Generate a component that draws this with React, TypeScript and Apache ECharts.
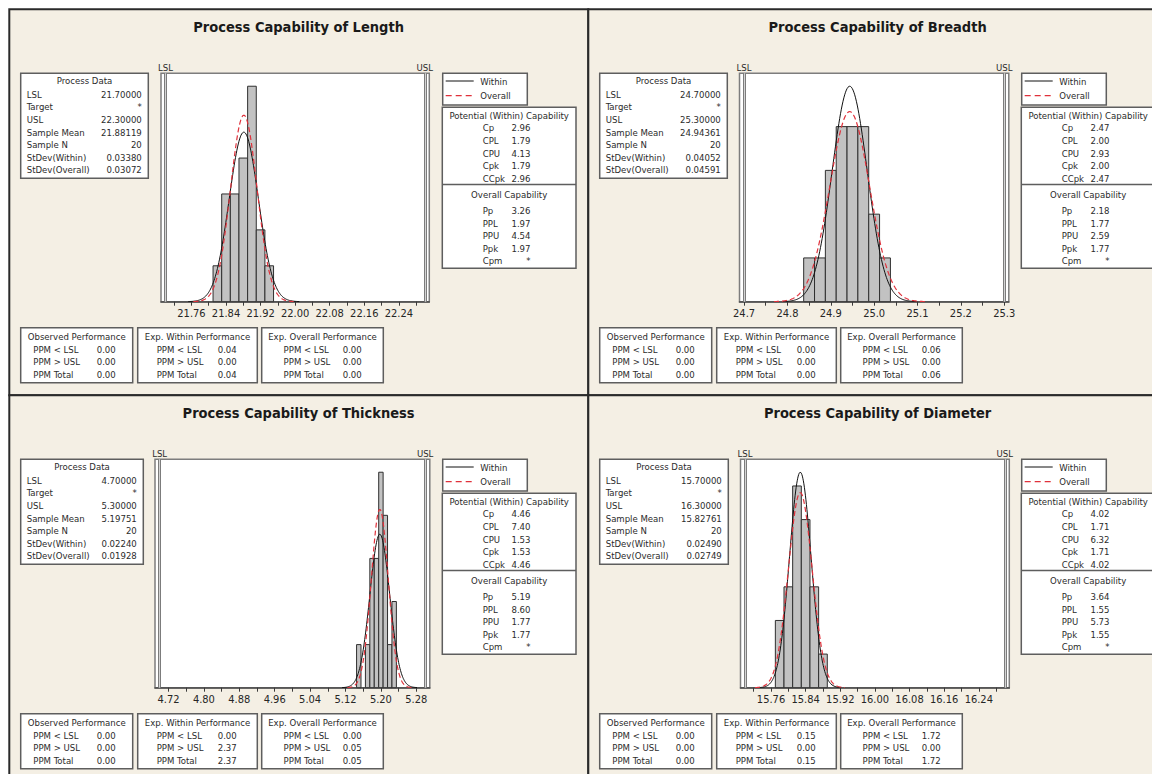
import React, { useEffect, useRef } from "react";
import * as echarts from "echarts";

const FONT = "'DejaVu Sans Condensed', 'DejaVu Sans', sans-serif";

// ---------------- data ----------------
const panelTitles = [
  "Process Capability of Length",
  "Process Capability of Breadth",
  "Process Capability of Thickness",
  "Process Capability of Diameter",
];
const lslValues = [21.7, 24.7, 4.7, 15.7];
const uslValues = [22.3, 25.3, 5.3, 16.3];
const sampleMeans = [21.88119, 24.94361, 5.19751, 15.82761];
const sampleN = [20, 20, 20, 20];
const stdevWithin = [0.0338, 0.04052, 0.0224, 0.0249];
const stdevOverall = [0.03072, 0.04591, 0.01928, 0.02749];

// histogram bins (bin centres, counts, bin width)
const lengthBinCenters = [21.82, 21.84, 21.86, 21.88, 21.9, 21.92, 21.94];
const lengthCounts = [1, 3, 3, 4, 6, 2, 1];
const breadthBinCenters = [24.85, 24.875, 24.9, 24.925, 24.95, 24.975, 25.0, 25.025];
const breadthCounts = [1, 1, 3, 4, 4, 4, 2, 1];
const thicknessBinCenters = [5.15, 5.16, 5.17, 5.18, 5.19, 5.2, 5.21, 5.22, 5.23];
const thicknessCounts = [1, 0, 1, 3, 3, 5, 4, 1, 2];
const diameterBinCenters = [15.78, 15.8, 15.82, 15.84, 15.86, 15.88];
const diameterCounts = [2, 3, 6, 5, 3, 1];
const binWidths = [0.02, 0.025, 0.01, 0.02];

// axis ticks and tick labels
const lengthTicks = [21.72, 21.76, 21.8, 21.84, 21.88, 21.92, 21.96, 22.0, 22.04, 22.08, 22.12, 22.16, 22.2, 22.24, 22.28];
const lengthTickLabels = [21.76, 21.84, 21.92, 22.0, 22.08, 22.16, 22.24];
const breadthTicks = [24.7, 24.75, 24.8, 24.85, 24.9, 24.95, 25.0, 25.05, 25.1, 25.15, 25.2, 25.25, 25.3];
const breadthTickLabels = [24.7, 24.8, 24.9, 25.0, 25.1, 25.2, 25.3];
const thicknessTicks = [4.72, 4.76, 4.8, 4.84, 4.88, 4.92, 4.96, 5.0, 5.04, 5.08, 5.12, 5.16, 5.2, 5.24, 5.28];
const thicknessTickLabels = [4.72, 4.8, 4.88, 4.96, 5.04, 5.12, 5.2, 5.28];
const diameterTicks = [15.72, 15.76, 15.8, 15.84, 15.88, 15.92, 15.96, 16.0, 16.04, 16.08, 16.12, 16.16, 16.2, 16.24, 16.28];
const diameterTickLabels = [15.76, 15.84, 15.92, 16.0, 16.08, 16.16, 16.24];
const labelDecimals = [2, 1, 2, 2];

// text tables
const processDataLabels = ["LSL", "Target", "USL", "Sample Mean", "Sample N", "StDev(Within)", "StDev(Overall)"];
const lengthProcessData = ["21.70000", "*", "22.30000", "21.88119", "20", "0.03380", "0.03072"];
const breadthProcessData = ["24.70000", "*", "25.30000", "24.94361", "20", "0.04052", "0.04591"];
const thicknessProcessData = ["4.70000", "*", "5.30000", "5.19751", "20", "0.02240", "0.01928"];
const diameterProcessData = ["15.70000", "*", "16.30000", "15.82761", "20", "0.02490", "0.02749"];

const potentialLabels = ["Cp", "CPL", "CPU", "Cpk", "CCpk"];
const lengthPotential = ["2.96", "1.79", "4.13", "1.79", "2.96"];
const breadthPotential = ["2.47", "2.00", "2.93", "2.00", "2.47"];
const thicknessPotential = ["4.46", "7.40", "1.53", "1.53", "4.46"];
const diameterPotential = ["4.02", "1.71", "6.32", "1.71", "4.02"];

const overallLabels = ["Pp", "PPL", "PPU", "Ppk", "Cpm"];
const lengthOverall = ["3.26", "1.97", "4.54", "1.97", "*"];
const breadthOverall = ["2.18", "1.77", "2.59", "1.77", "*"];
const thicknessOverall = ["5.19", "8.60", "1.77", "1.77", "*"];
const diameterOverall = ["3.64", "1.55", "5.73", "1.55", "*"];

const ppmLabels = ["PPM < LSL", "PPM > USL", "PPM Total"];
const observedPPM = [["0.00", "0.00", "0.00"], ["0.00", "0.00", "0.00"], ["0.00", "0.00", "0.00"], ["0.00", "0.00", "0.00"]];
const expWithinPPM = [["0.04", "0.00", "0.04"], ["0.00", "0.00", "0.00"], ["0.00", "2.37", "2.37"], ["0.15", "0.00", "0.15"]];
const expOverallPPM = [["0.00", "0.00", "0.00"], ["0.06", "0.00", "0.06"], ["0.00", "0.05", "0.05"], ["1.72", "0.00", "1.72"]];

const binCenters = [lengthBinCenters, breadthBinCenters, thicknessBinCenters, diameterBinCenters];
const binCounts = [lengthCounts, breadthCounts, thicknessCounts, diameterCounts];
const axisTicks = [lengthTicks, breadthTicks, thicknessTicks, diameterTicks];
const axisTickLabels = [lengthTickLabels, breadthTickLabels, thicknessTickLabels, diameterTickLabels];
const processData = [lengthProcessData, breadthProcessData, thicknessProcessData, diameterProcessData];
const potentialData = [lengthPotential, breadthPotential, thicknessPotential, diameterPotential];
const overallData = [lengthOverall, breadthOverall, thicknessOverall, diameterOverall];

// ---------------- layout ----------------
const PANEL_DX = 579;
const PANEL_DY = 386;
const BG = "#f4efe4";
const TEXT = "#2b2b2b";
const BOX_STROKE = "#5e5e5e";
const panelLayouts = [
  { procRight: 148.3, plotLeft: 161, plotRight: 429.3 },
  { procRight: 148.3, plotLeft: 160.5, plotRight: 429.8 },
  { procRight: 143.3, plotLeft: 155, plotRight: 429.8 },
  { procRight: 149.3, plotLeft: 161.5, plotRight: 430.3 },
];
const PLOT_TOP = 73.3;
const PLOT_BOTTOM = 301.7;

function pdfCurve(mean: number, sd: number, n: number, w: number) {
  const pts: number[][] = [];
  const steps = 160;
  for (let i = 0; i <= steps; i++) {
    const x = mean - 3.8 * sd + (7.6 * sd * i) / steps;
    const z = (x - mean) / sd;
    pts.push([x, (n * w * Math.exp(-0.5 * z * z)) / (sd * Math.sqrt(2 * Math.PI))]);
  }
  return pts;
}

function txt(x: number, y: number, text: string, o: any = {}) {
  return {
    type: "text",
    x,
    y,
    z: 30,
    silent: true,
    style: {
      text,
      fill: o.fill || TEXT,
      font: `${o.weight || "normal"} ${o.size || 9.5}px ${FONT}`,
      textAlign: o.align || "left",
      textVerticalAlign: "middle",
    },
  };
}
function box(x: number, y: number, w: number, h: number) {
  return {
    type: "rect",
    z: 20,
    silent: true,
    shape: { x, y, width: w, height: h },
    style: { fill: "#ffffff", stroke: BOX_STROKE, lineWidth: 1.5 },
  };
}
function hline(x1: number, y1: number, x2: number, y2: number, stroke: string, lineWidth: number, dash?: number[]) {
  return {
    type: "line",
    z: 25,
    silent: true,
    shape: { x1, y1, x2, y2 },
    style: { stroke, lineWidth, lineDash: dash || null },
  };
}

function buildOption() {
  const grids: any[] = [];
  const xAxes: any[] = [];
  const yAxes: any[] = [];
  const series: any[] = [];
  const elements: any[] = [];

  for (let p = 0; p < 4; p++) {
    const col = p % 2;
    const row = Math.floor(p / 2);
    const ox = col * PANEL_DX;
    const oy = row * PANEL_DY;
    const lay = panelLayouts[p];

    // panel background + frame
    elements.push({
      type: "rect",
      z: -10,
      silent: true,
      shape: { x: 9.3 + ox, y: 9.3 + oy, width: PANEL_DX, height: PANEL_DY },
      style: { fill: BG, stroke: "#2a2a2a", lineWidth: 2 },
    });

    // title
    elements.push(txt(ox + 298.6, oy + 27, panelTitles[p], { weight: "bold", size: 14.5, align: "center", fill: "#1a1a1a" }));

    // process data box
    const pbx = ox + 20.7;
    const pby = oy + 73.3;
    const pbw = lay.procRight - 20.7;
    elements.push(box(pbx, pby, pbw, 105));
    elements.push(txt(pbx + pbw / 2, oy + 80.7, "Process Data", { align: "center" }));
    processDataLabels.forEach((lab, i) => {
      const y = oy + 94.3 + i * 12.6;
      elements.push(txt(pbx + 6, y, lab));
      elements.push(txt(pbx + pbw - 6.5, y, processData[p][i], { align: "right" }));
    });

    // legend box
    const lbx = ox + 442.7;
    elements.push(box(lbx, oy + 73.3, 84.6, 31.7));
    elements.push(hline(lbx + 3, oy + 81, lbx + 31, oy + 81, "#111111", 1));
    elements.push(hline(lbx + 3, oy + 95.7, lbx + 31, oy + 95.7, "#e0313b", 1.2, [6, 4]));
    elements.push(txt(lbx + 37.5, oy + 81, "Within"));
    elements.push(txt(lbx + 37.5, oy + 95.7, "Overall"));

    // potential / overall capability box
    const cbx = ox + 442.3;
    const cbw = 133.7;
    elements.push(box(cbx, oy + 107.3, cbw, 161));
    elements.push(hline(cbx, oy + 184.5, cbx + cbw, oy + 184.5, BOX_STROKE, 1.5));
    elements.push(txt(cbx + cbw / 2, oy + 115, "Potential (Within) Capability", { align: "center" }));
    potentialLabels.forEach((lab, i) => {
      const y = oy + 127.7 + i * 12.65;
      elements.push(txt(ox + 482.7, y, lab));
      elements.push(txt(ox + 530.5, y, potentialData[p][i], { align: "right" }));
    });
    elements.push(txt(cbx + cbw / 2, oy + 194, "Overall Capability", { align: "center" }));
    overallLabels.forEach((lab, i) => {
      const y = oy + 210.7 + i * 12.5;
      elements.push(txt(ox + 482.7, y, lab));
      elements.push(txt(ox + 530.5, y, overallData[p][i], { align: "right" }));
    });

    // bottom performance boxes
    const perfBoxes = [
      { x: 20.7, w: 112, title: "Observed Performance", lx: 33.3, vx: 96.7, vals: observedPPM[p] },
      { x: 137.7, w: 119.6, title: "Exp. Within Performance", lx: 156.7, vx: 217.7, vals: expWithinPPM[p] },
      { x: 261.7, w: 121.6, title: "Exp. Overall Performance", lx: 283.6, vx: 342.7, vals: expOverallPPM[p] },
    ];
    perfBoxes.forEach((b) => {
      elements.push(box(ox + b.x, oy + 327.7, b.w, 55));
      elements.push(txt(ox + b.x + b.w / 2, oy + 336.7, b.title, { align: "center" }));
      ppmLabels.forEach((lab, i) => {
        const y = oy + 349.3 + i * 12.35;
        elements.push(txt(ox + b.lx, y, lab));
        elements.push(txt(ox + b.vx, y, b.vals[i]));
      });
    });

    // ---------- chart parts ----------
    const lsl = lslValues[p];
    const usl = uslValues[p];
    const margin = 0.0175 * (usl - lsl);
    const w = binWidths[p];
    const within = pdfCurve(sampleMeans[p], stdevWithin[p], sampleN[p], w);
    const overall = pdfCurve(sampleMeans[p], stdevOverall[p], sampleN[p], w);
    const peakW = (sampleN[p] * w) / (stdevWithin[p] * Math.sqrt(2 * Math.PI));
    const peakO = (sampleN[p] * w) / (stdevOverall[p] * Math.sqrt(2 * Math.PI));
    const ymax = 1.06 * Math.max(Math.max(...binCounts[p]), peakW, peakO);
    const dec = labelDecimals[p];

    grids.push({
      left: ox + lay.plotLeft,
      top: oy + PLOT_TOP,
      width: lay.plotRight - lay.plotLeft,
      height: PLOT_BOTTOM - PLOT_TOP,
      show: true,
      backgroundColor: "#ffffff",
      borderColor: "#7d7d7d",
      borderWidth: 1.5,
      containLabel: false,
    });
    xAxes.push({
      type: "value",
      gridIndex: p,
      min: lsl - margin,
      max: usl + margin,
      axisLine: { show: true, onZero: false, lineStyle: { color: "#4a4a4a", width: 1.5 } },
      axisTick: { show: true, customValues: axisTicks[p], length: 4, lineStyle: { color: "#3a3a3a", width: 1 } },
      axisLabel: {
        customValues: axisTickLabels[p],
        formatter: (v: number) => v.toFixed(dec),
        fontSize: 11,
        fontFamily: FONT,
        color: "#262626",
        margin: 6,
      },
      splitLine: { show: false },
    });
    yAxes.push({ type: "value", gridIndex: p, min: 0, max: ymax, show: false, splitLine: { show: false } });

    const specLines = [
      { name: "LSL", xAxis: lsl },
      { name: "USL", xAxis: usl },
    ];
    const histData = binCenters[p].map((c, i) => [c - w / 2, c + w / 2, binCounts[p][i]]);
    series.push({
      type: "custom",
      xAxisIndex: p,
      yAxisIndex: p,
      data: histData,
      encode: { x: [0, 1], y: 2 },
      renderItem: (_params: any, api: any) => {
        const c = api.value(2);
        if (!c) return null;
        const p0 = api.coord([api.value(0), c]);
        const p1 = api.coord([api.value(1), 0]);
        return {
          type: "rect",
          shape: { x: p0[0], y: p0[1], width: p1[0] - p0[0], height: p1[1] - p0[1] },
          style: { fill: "#c2c2c2", stroke: "#2f2f2f", lineWidth: 1 },
        };
      },
      markLine: {
        silent: true,
        symbol: "none",
        animation: false,
        lineStyle: { color: "#7c7c7c", width: 3, type: "solid" },
        label: {
          show: true,
          position: "end",
          formatter: "{b}",
          distance: 1,
          fontSize: 9.5,
          fontFamily: FONT,
          color: TEXT,
        },
        data: specLines,
      },
      z: 2,
    });
    series.push({
      type: "line",
      name: "Within",
      xAxisIndex: p,
      yAxisIndex: p,
      data: within,
      showSymbol: false,
      smooth: false,
      lineStyle: { color: "#111111", width: 1 },
      markLine: {
        silent: true,
        symbol: "none",
        animation: false,
        lineStyle: { color: "#d4d4d4", width: 1, type: "solid" },
        label: { show: false },
        data: specLines,
      },
      z: 3,
    });
    series.push({
      type: "line",
      name: "Overall",
      xAxisIndex: p,
      yAxisIndex: p,
      data: overall,
      showSymbol: false,
      smooth: false,
      lineStyle: { color: "#e0313b", width: 1.2, type: [5, 3] },
      z: 4,
    });
  }

  return {
    animation: false,
    backgroundColor: "#ffffff",
    grid: grids,
    xAxis: xAxes,
    yAxis: yAxes,
    series,
    graphic: { elements },
  };
}

export default function App() {
  const ref = useRef<HTMLDivElement>(null);
  useEffect(() => {
    if (!ref.current) return;
    const chart = echarts.init(ref.current, undefined, { renderer: "svg" });
    chart.setOption(buildOption() as any);
    return () => chart.dispose();
  }, []);
  return (
    <div
      ref={ref}
      style={{ position: "absolute", left: 0, top: 0, width: 1152, height: 774 }}
    />
  );
}
